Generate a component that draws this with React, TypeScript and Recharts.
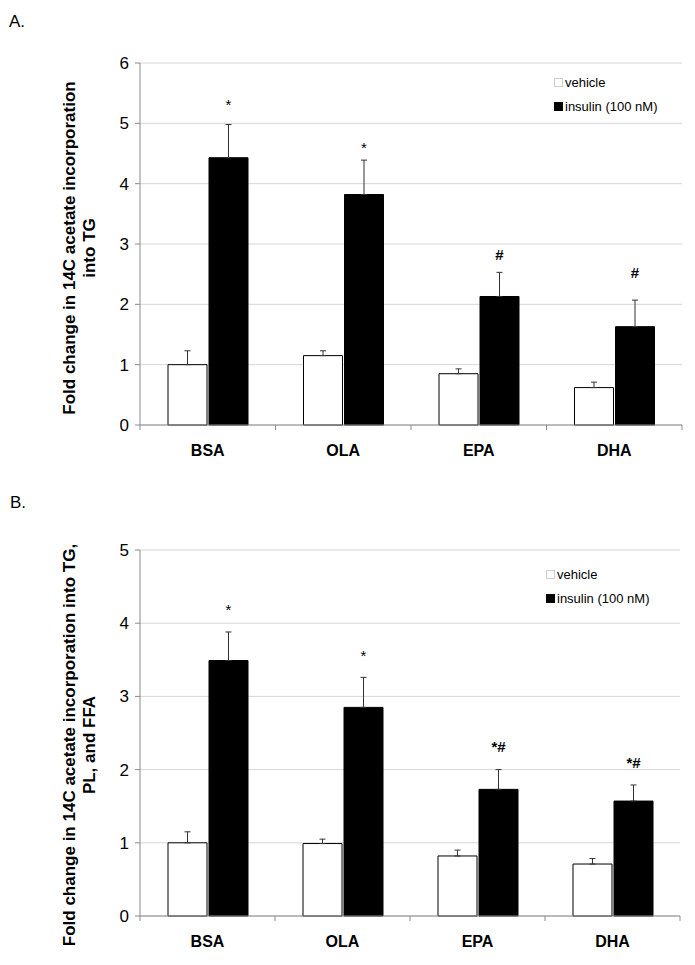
import React from 'react';
import { BarChart, Bar, XAxis, YAxis, CartesianGrid, ErrorBar, LabelList, Legend } from 'recharts';

// categories shared by both panels
const categories = ['BSA', 'OLA', 'EPA', 'DHA'];
const seriesNames = ['vehicle', 'insulin (100 nM)'];

// panel A: TG
const vehicleA = [1.0, 1.15, 0.85, 0.62];
const vehicleErrA = [0.23, 0.08, 0.08, 0.09];
const insulinA = [4.43, 3.82, 2.13, 1.63];
const insulinErrA = [0.55, 0.57, 0.4, 0.44];
const marksA = ['*', '*', '#', '#'];
const markPosA = [5.36, 4.65, 2.82, 2.52];
const ticksA = [0, 1, 2, 3, 4, 5, 6];

// panel B: TG, PL and FFA
const vehicleB = [1.0, 0.99, 0.82, 0.71];
const vehicleErrB = [0.15, 0.06, 0.08, 0.075];
const insulinB = [3.49, 2.85, 1.73, 1.57];
const insulinErrB = [0.39, 0.41, 0.27, 0.22];
const marksB = ['*', '*', '*#', '*#'];
const markPosB = [4.22, 3.59, 2.31, 2.09];
const ticksB = [0, 1, 2, 3, 4, 5];

const FONT = '"Liberation Sans", Arial, sans-serif';
const AXIS = '#8a8a8a';

const buildRows = (veh: number[], vehErr: number[], ins: number[], insErr: number[], marks: string[]) =>
  categories.map((name, i) => ({
    name,
    vehicle: veh[i],
    vehicleErr: [0, vehErr[i]],
    insulin: ins[i],
    insulinErr: [0, insErr[i]],
    mark: marks[i]
  }));

const dataA = buildRows(vehicleA, vehicleErrA, insulinA, insulinErrA, marksA);
const dataB = buildRows(vehicleB, vehicleErrB, insulinB, insulinErrB, marksB);

const CategoryTick = (props: any) => {
  const { x, y, payload, index } = props;
  const off = payload && payload.offset ? payload.offset : 0;
  return <g>
      <line x1={x - off} x2={x - off} y1={y} y2={y + 5} stroke={AXIS} />
      {index === categories.length - 1 && <line x1={x + off} x2={x + off} y1={y} y2={y + 5} stroke={AXIS} />}
      <text x={x} y={y + 31} textAnchor="middle" fontSize={16} fontWeight="bold" fill="#000" fontFamily={FONT}>
        {payload.value}
      </text>
    </g>;
};

// significance marks placed at a data value above the insulin bar
const makeMarkRenderer = (values: number[], pos: number[]) => (props: any) => {
  const x = Number(props.x);
  const y = Number(props.y);
  const w = Number(props.width);
  const h = Number(props.height);
  const i = props.index;
  const perUnit = h / values[i];
  const cy = y + h - pos[i] * perUnit;
  const txt = String(props.value);
  const fs = 15;
  const base = txt === '*' ? cy + fs * 0.55 : cy + fs * 0.36;
  return <text x={x + w / 2} y={base} textAnchor="middle" fontSize={fs} fontWeight={txt === '*' ? 'normal' : 'bold'} fill="#000" fontFamily={FONT}>
      {txt}
    </text>;
};

const LegendBox = (props: any) => {
  const items = [...(props.payload || [])].sort((a: any, b: any) => seriesNames.indexOf(a.value) - seriesNames.indexOf(b.value));
  return <div style={{ fontFamily: FONT, fontSize: 13, color: '#000' }}>
      {items.map((it: any) => <div key={it.value} style={{ display: 'flex', alignItems: 'center', height: 24 }}>
          <span style={{
          display: 'inline-block',
          width: 7,
          height: 7,
          background: it.color === '#ffffff' ? '#fff' : '#000',
          border: it.color === '#ffffff' ? '1px solid #cfcfcf' : '1px solid #000',
          marginRight: 2
        }} />
          {it.value}
        </div>)}
    </div>;
};

const YLabel = ({ lines, cy }: { lines: string[]; cy: number }) => <g>
    {lines.map((l, i) => <text key={l} x={0} y={0} transform={`translate(${75 + i * 20}, ${cy}) rotate(-90)`} textAnchor="middle" fontSize={17} fontWeight="bold" fill="#000" fontFamily={FONT}>
        {l}
      </text>)}
  </g>;

const Panel = ({ data, values, markPos, ticks, height, margin, labelLines, labelCy, legendTop, legendLeft }: any) => {
  const max = ticks[ticks.length - 1];
  return <BarChart width={695} height={height} data={data} margin={margin} barSize={39} barGap={2}>
      <CartesianGrid vertical={false} stroke="#d6d6d6" />
      <XAxis dataKey="name" height={30} axisLine={{ stroke: AXIS }} tickLine={false} tickSize={0} tickMargin={0} tick={<CategoryTick />} interval={0} />
      <XAxis xAxisId="top" dataKey="name" orientation="top" height={0} tick={false} tickLine={false} axisLine={{ stroke: AXIS }} />
      <YAxis domain={[0, max]} ticks={ticks} width={40} axisLine={{ stroke: AXIS }} tickLine={{ stroke: AXIS }} tickSize={5} tickMargin={6} tick={{ fontSize: 17, fill: '#000', fontFamily: FONT }} label={{ content: () => <YLabel lines={labelLines} cy={labelCy} /> }} />
      <YAxis yAxisId="r" orientation="right" domain={[0, max]} width={0} tick={false} tickLine={false} axisLine={{ stroke: AXIS }} />
      <Legend layout="vertical" align="center" verticalAlign="middle" content={<LegendBox />} wrapperStyle={{ left: legendLeft, top: legendTop, width: 140, height: 50 }} />
      <Bar dataKey="vehicle" name={seriesNames[0]} fill="#ffffff" stroke="#000" strokeWidth={1} isAnimationActive={false}>
        <ErrorBar dataKey="vehicleErr" width={3} stroke="#333" strokeWidth={1} direction="y" isAnimationActive={false} />
      </Bar>
      <Bar dataKey="insulin" name={seriesNames[1]} fill="#000000" stroke="#000" strokeWidth={1} isAnimationActive={false}>
        <ErrorBar dataKey="insulinErr" width={3} stroke="#333" strokeWidth={1} direction="y" isAnimationActive={false} />
        <LabelList dataKey="mark" content={makeMarkRenderer(values, markPos)} />
      </Bar>
    </BarChart>;
};

export default function App() {
  return <div style={{ position: 'absolute', left: 0, top: 0, width: 695, height: 965, background: '#fff', fontFamily: FONT }}>
      <div style={{ position: 'absolute', left: 9, top: 12, fontSize: 17 }}>A.</div>
      <div style={{ position: 'absolute', left: 10, top: 493, fontSize: 17 }}>B.</div>
      <div style={{ position: 'absolute', left: 0, top: 0 }}>
        <Panel data={dataA} values={insulinA} markPos={markPosA} ticks={ticksA} height={470} margin={{ top: 63, right: 13, bottom: 15, left: 100 }} labelLines={['Fold change in 14C acetate incorporation', 'into TG']} labelCy={248} legendLeft={554} legendTop={70} />
      </div>
      <div style={{ position: 'absolute', left: 0, top: 470 }}>
        <Panel data={dataB} values={insulinB} markPos={markPosB} ticks={ticksB} height={495} margin={{ top: 80, right: 15, bottom: 19, left: 100 }} labelLines={['Fold change in 14C acetate incorporation into TG,', 'PL, and FFA']} labelCy={275} legendLeft={546} legendTop={92} />
      </div>
    </div>;
}
